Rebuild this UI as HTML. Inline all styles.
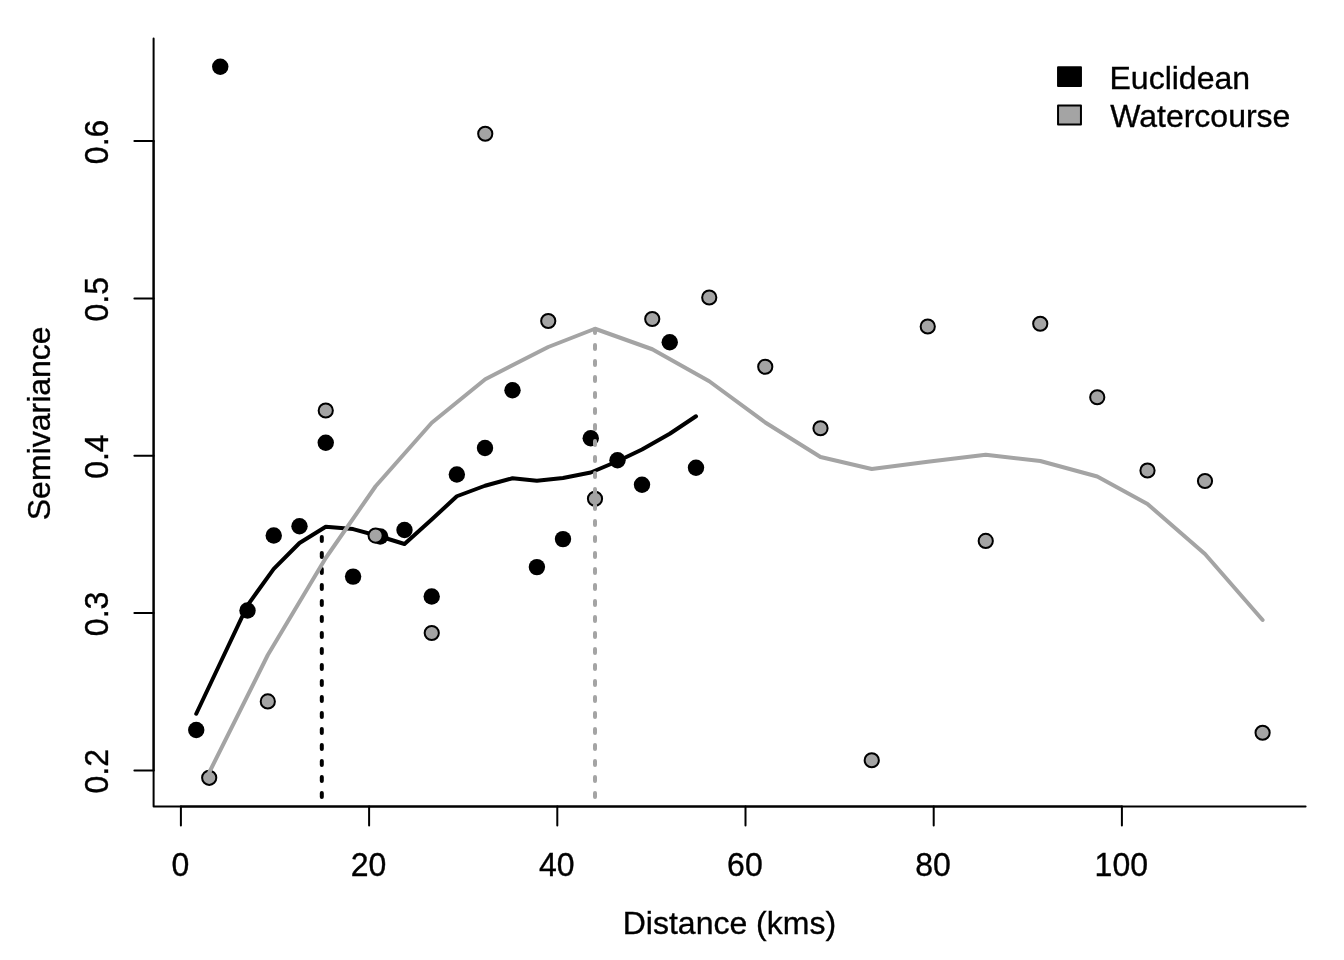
<!DOCTYPE html>
<html lang="en">
<head>
<meta charset="utf-8">
<title>Semivariance vs Distance</title>
<style>
html,body{margin:0;padding:0;background:#fff;}
body{width:1344px;height:960px;overflow:hidden;}
svg{display:block;}
svg text{font-family:"Liberation Sans",Arial,Helvetica,sans-serif;font-size:32px;fill:#000;stroke:#000;stroke-width:0.35px;}
</style>
</head>
<body>
<svg width="1344" height="960" viewBox="0 0 1344 960">
<rect x="0" y="0" width="1344" height="960" fill="#ffffff"/>
<g id="euclid-points" fill="#000">
<circle cx="196.25" cy="730" r="8.2"/>
<circle cx="220.25" cy="66.75" r="8.2"/>
<circle cx="247.5" cy="610.5" r="8.2"/>
<circle cx="273.75" cy="535.5" r="8.2"/>
<circle cx="299.5" cy="526.25" r="8.2"/>
<circle cx="325.75" cy="442.75" r="8.2"/>
<circle cx="353.1" cy="576.6" r="8.2"/>
<circle cx="380.2" cy="536.5" r="8.2"/>
<circle cx="404.5" cy="530" r="8.2"/>
<circle cx="431.7" cy="596.5" r="8.2"/>
<circle cx="456.85" cy="474.5" r="8.2"/>
<circle cx="485" cy="448" r="8.2"/>
<circle cx="512.5" cy="390.25" r="8.2"/>
<circle cx="536.9" cy="567.1" r="8.2"/>
<circle cx="563" cy="539.1" r="8.2"/>
<circle cx="590.75" cy="438.25" r="8.2"/>
<circle cx="617.5" cy="460.25" r="8.2"/>
<circle cx="642" cy="484.75" r="8.2"/>
<circle cx="669.75" cy="342.25" r="8.2"/>
<circle cx="696" cy="467.75" r="8.2"/>
</g>
<polyline points="196.25,713.75 220.25,663.00 247.50,605.30 273.75,568.80 299.50,543.00 325.75,526.75 353.10,529.10 380.20,536.50 404.50,544.00 431.70,519.50 456.85,496.25 485.00,485.75 512.50,478.25 536.90,480.75 563.00,478.00 590.75,472.50 617.50,461.25 642.00,449.50 669.75,433.75 696.00,416.25" fill="none" stroke="#000" stroke-width="4" stroke-linejoin="round" stroke-linecap="round"/>
<path d="M321.8 797 L321.8 529" fill="none" stroke="#000" stroke-width="4" stroke-dasharray="4 12" stroke-linecap="round"/>
<g id="water-points" fill="#A4A4A4" stroke="#000" stroke-width="2">
<circle cx="209.2" cy="777.8" r="7.1"/>
<circle cx="267.8" cy="701.4" r="7.1"/>
<circle cx="325.75" cy="410.5" r="7.1"/>
<circle cx="375.6" cy="535.6" r="7.1"/>
<circle cx="431.75" cy="633" r="7.1"/>
<circle cx="485.25" cy="133.75" r="7.1"/>
<circle cx="548.25" cy="321" r="7.1"/>
<circle cx="595" cy="498.75" r="7.1"/>
<circle cx="652.25" cy="319" r="7.1"/>
<circle cx="709.25" cy="297.5" r="7.1"/>
<circle cx="765.25" cy="366.75" r="7.1"/>
<circle cx="820.5" cy="428.25" r="7.1"/>
<circle cx="871.75" cy="760.25" r="7.1"/>
<circle cx="927.75" cy="326.5" r="7.1"/>
<circle cx="985.75" cy="540.9" r="7.1"/>
<circle cx="1040.25" cy="323.75" r="7.1"/>
<circle cx="1097.25" cy="397.25" r="7.1"/>
<circle cx="1147.5" cy="470.5" r="7.1"/>
<circle cx="1205" cy="481" r="7.1"/>
<circle cx="1262.6" cy="732.75" r="7.1"/>
</g>
<polyline points="209.20,772.50 267.80,655.00 325.75,558.00 375.60,486.25 431.75,422.75 485.25,379.25 548.25,347.00 595.00,328.75 652.25,349.25 709.25,381.25 765.25,422.50 820.50,457.00 871.75,469.00 927.75,461.75 985.75,454.75 1040.25,461.00 1097.25,476.50 1147.50,504.00 1205.00,554.00 1262.60,620.00" fill="none" stroke="#A4A4A4" stroke-width="4" stroke-linejoin="round" stroke-linecap="round"/>
<path d="M595 797 L595 328.75" fill="none" stroke="#A4A4A4" stroke-width="4" stroke-dasharray="4 12" stroke-linecap="round"/>
<g id="axes" fill="none" stroke="#000" stroke-width="2" stroke-linecap="round" stroke-linejoin="round">
<path d="M153.6 38.4 L153.6 806.4 L1305.6 806.4"/>
<path d="M180.90 806.4 L1121.90 806.4"/>
<path d="M153.6 770.40 L153.6 141.08"/>
<path d="M180.90 806.4 L180.90 825.6"/>
<path d="M369.10 806.4 L369.10 825.6"/>
<path d="M557.30 806.4 L557.30 825.6"/>
<path d="M745.50 806.4 L745.50 825.6"/>
<path d="M933.70 806.4 L933.70 825.6"/>
<path d="M1121.90 806.4 L1121.90 825.6"/>
<path d="M153.6 770.40 L134.4 770.40"/>
<path d="M153.6 613.07 L134.4 613.07"/>
<path d="M153.6 455.74 L134.4 455.74"/>
<path d="M153.6 298.41 L134.4 298.41"/>
<path d="M153.6 141.08 L134.4 141.08"/>
</g>
<g id="xlabels" text-anchor="middle">
<text transform="translate(180.30 876.2) scale(1 1.04)">0</text>
<text transform="translate(368.50 876.2) scale(1 1.04)">20</text>
<text transform="translate(556.70 876.2) scale(1 1.04)">40</text>
<text transform="translate(744.90 876.2) scale(1 1.04)">60</text>
<text transform="translate(933.10 876.2) scale(1 1.04)">80</text>
<text transform="translate(1121.30 876.2) scale(1 1.04)">100</text>
</g>
<g id="ylabels" text-anchor="middle">
<text transform="translate(107.65 771.25) rotate(-90) scale(1 1.045)">0.2</text>
<text transform="translate(107.65 613.92) rotate(-90) scale(1 1.045)">0.3</text>
<text transform="translate(107.65 456.59) rotate(-90) scale(1 1.045)">0.4</text>
<text transform="translate(107.65 299.26) rotate(-90) scale(1 1.045)">0.5</text>
<text transform="translate(107.65 141.93) rotate(-90) scale(1 1.045)">0.6</text>
</g>
<text x="729.4" y="933.8" text-anchor="middle">Distance (kms)</text>
<text transform="translate(49.5 423.3) rotate(-90)" text-anchor="middle">Semivariance</text>
<g id="legend">
<rect x="1058.05" y="67.2" width="22.9" height="18.9" fill="#000" stroke="#000" stroke-width="2" stroke-linejoin="round"/>
<rect x="1058.05" y="105.6" width="22.9" height="18.9" fill="#A4A4A4" stroke="#000" stroke-width="2" stroke-linejoin="round"/>
<text x="1109.5" y="89.3">Euclidean</text>
<text x="1110.2" y="127.2">Watercourse</text>
</g>
</svg>
</body>
</html>
